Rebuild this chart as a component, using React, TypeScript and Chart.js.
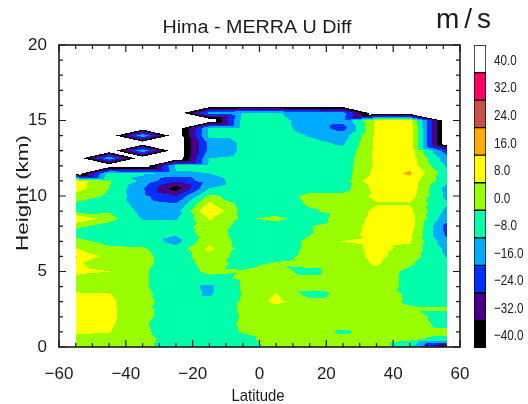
import { useEffect, useRef } from 'react';
import { Chart, registerables } from 'chart.js';

Chart.register(...registerables);

// Grid of the U-wind difference field
const LATITUDES = [-55, -45, -35, -25, -15, -5, 5, 15, 25, 35, 45, 56];
const HEIGHTS_KM = [0, 0.5, 1, 1.5, 2, 2.5, 3, 3.5, 4, 4.5, 5, 5.5, 6, 6.5, 7, 7.5, 8, 8.5, 9, 9.5, 10, 10.5, 11, 11.5, 12, 12.5, 13, 13.5, 14, 14.5, 15, 15.5, 16];

// Hima - MERRA zonal wind difference (m/s), one column per latitude, listed from 0 km upward; null = no data
const U_LAT_M55 = [5, 6, 9, 11, 11, 11, 11, 9, 5, 6, 10, 9, 16.5, 8.5, 3, -3, 2, 16.5, -2, -1, 4, 12, 12, null, null, null, null, null, null, null, null, null, null];
const U_LAT_M45 = [4, 5, 8.5, 9.5, 10, 10, 9.5, 8.5, 4, 3, 8.1, 5, 5, 2, -3, -4, -3, 3, -1, -2, -1, 0, 1, -5, null, -9, null, null, null, null, null, null, null];
const U_LAT_M35 = [2, 3, 1.5, 1, 2, 2, 3, 2, 1, 1, 1, 2, 2, 1, -3, -3, -4, -8.5, -10, -12, -14, -15, -10, -7, null, null, -9, null, -9, null, null, null, null];
const U_LAT_M25 = [-4, -4, -4, -4, -4, -4, -5, -4, -4, -4, -4, -4, -4, -5, -11, -7, -5, -9, -12, -16, -24, -36, -23, -9, -6, null, null, null, null, null, null, null, null];
const U_LAT_M15 = [-4, -4, -4, -4, -4, -4, -5, -9, -9.5, -2, 1.5, 3, 5, 10, 6, 5, 5, 9, 16.5, 9.5, 2, -8, -11, -8, -6, -8, -13, -13, -6, -7, null, -12, null];
const U_LAT_M5 = [-3, -2, 0.5, 1, 0.5, 1, 1, 0.5, 1, 1, 0.5, -2, -3, -3, -3, -4, -3, -1.5, -2, -3, -4, -5, -5, -4, -5, -6, -7, -7, -5, -5, -5, -7, null];
const U_LAT_P5 = [2, 3, 3, 3, 3, 4, 10.5, 8.5, 4, 4, 3, 1, -3, -4, -4, -4, -4, 2.5, -4, -4, -4, -4, -4, -4, -4, -4, -5, -4, -4, -5, -5, -7, null];
const U_LAT_P15 = [4, 4, 3, 4, 4, 4, 3, -2.5, 3, 3, -2.5, 3, 2, 1.5, 1.5, -0.5, -0.5, -5, -1, 1, 2, -3, -3, -3, -3, -4, -5, -6, -8.5, -11, -12, -12, null];
const U_LAT_P25 = [3, 3, -1, 3, 3, 4, 3, 1.5, 3, 4, 4, 4, 4, 5, 8.2, 5, 4, 4, 3, 3, 2, -3, -4, -4, -4, -5, -6, -9, -12, -19, -14, -13, null];
const U_LAT_P35 = [4, 3, 3, 4, 4, 4, 3, 3, 4, 4, 5, 9, 10, 10, 10, 11, 11, 10, 9.5, 7.5, 10, 11, 16.3, 11, 9.5, 10, 10, 10, 10, 10, 9.5, null, null];
const U_LAT_P45 = [-5, 1, 3, 3, 3, 1, -1, -1, -2, -2, -2, 1, 4, 6, 9, 10, 12, 12, 10, 7.5, 12, 13, 13, 17.5, 13, 13, 13, 13, 13, 13, 12, null, null];
const U_LAT_P56 = [-36, -2, 2, -2, -3, 1, -3, -3, -4, -4, -4, -5, -8.5, -10, -13, -18, -19, -13, -10, -7, -10, -11, -5, -5, -9, -13, -20, null, null, null, null, null, null];

const U_COLUMNS = [U_LAT_M55, U_LAT_M45, U_LAT_M35, U_LAT_M25, U_LAT_M15, U_LAT_M5, U_LAT_P5, U_LAT_P15, U_LAT_P25, U_LAT_P35, U_LAT_P45, U_LAT_P56];

// Contour levels (m/s), their colours and colour-bar labels
const LEVELS = [-40, -32, -24, -16, -8, 0, 8, 16, 24, 32, 40];
const LEVEL_COLORS = ['#000000', '#48008c', '#0030ff', '#00aaff', '#00ffaa', '#99ff00', '#ffff00', '#ffaa00', '#c85048', '#ff0066', '#ffffff'];
const LEVEL_LABELS = ['\u221240.0', '\u221232.0', '\u221224.0', '\u221216.0', '\u22128.0', '0.0', '8.0', '16.0', '24.0', '32.0', '40.0'];

const X_TICKS = [-60, -40, -20, 0, 20, 40, 60];
const Y_TICKS = [0, 5, 10, 15, 20];

const NO_DATA_FILL = -48;
const FONT = "'Liberation Sans', Arial, sans-serif";
const INK = '#1c1c1c';

const fmt = (v: number) => (v < 0 ? '\u2212' + Math.abs(v) : String(v));
const hexRgb = (hex: string) => [parseInt(hex.slice(1, 3), 16), parseInt(hex.slice(3, 5), 16), parseInt(hex.slice(5, 7), 16)];

function fitText(ctx: CanvasRenderingContext2D, text: string, cx: number, cy: number, width: number, font: string, rotate = false) {
  ctx.save();
  ctx.font = font;
  ctx.fillStyle = INK;
  const m = ctx.measureText(text).width;
  ctx.translate(cx, cy);
  if (rotate) ctx.rotate(-Math.PI / 2);
  ctx.scale(width / m, 1);
  ctx.textAlign = 'center';
  ctx.textBaseline = 'alphabetic';
  ctx.fillText(text, 0, 0);
  ctx.restore();
}

// Linear interpolation on triangles; each grid cell is split along the diagonal with the lower end values
function cellValue(v00: number, v10: number, v01: number, v11: number, tx: number, ty: number) {
  if (v00 + v11 <= v10 + v01) {
    if (tx >= ty) return v00 + tx * (v10 - v00) + ty * (v11 - v10);
    return v00 + ty * (v01 - v00) + tx * (v11 - v01);
  }
  if (tx + ty <= 1) return v00 + tx * (v10 - v00) + ty * (v01 - v00);
  return v11 + (1 - tx) * (v01 - v11) + (1 - ty) * (v10 - v11);
}

// Filled contours of the grid, sampled pixel by pixel through the chart scales
const contourFill = {
  id: 'contourFill',
  beforeDatasetsDraw(chart: any) {
    const { ctx, chartArea: area, scales } = chart;
    const xs = scales.x;
    const ys = scales.y;
    const pts = chart.data.datasets[0].data as { x: number; y: number; v: number | null }[];
    const nL = LATITUDES.length;
    const nH = HEIGHTS_KM.length;
    const val = (i: number, j: number) => {
      const v = pts[i * nH + j].v;
      return v === null ? NO_DATA_FILL : v;
    };
    const w = Math.round(area.right - area.left);
    const h = Math.round(area.bottom - area.top);
    const off = document.createElement('canvas');
    off.width = w;
    off.height = h;
    const octx = off.getContext('2d')!;
    const img = octx.createImageData(w, h);
    const rgb = LEVEL_COLORS.map(hexRgb);
    for (let py = 0; py < h; py++) {
      const hv = ys.getValueForPixel(area.top + py + 0.5);
      if (hv < HEIGHTS_KM[0] || hv > HEIGHTS_KM[nH - 1]) continue;
      let j = 0;
      while (j < nH - 2 && hv > HEIGHTS_KM[j + 1]) j++;
      const ty = (hv - HEIGHTS_KM[j]) / (HEIGHTS_KM[j + 1] - HEIGHTS_KM[j]);
      for (let px = 0; px < w; px++) {
        const lat = xs.getValueForPixel(area.left + px + 0.5);
        if (lat < LATITUDES[0] || lat > LATITUDES[nL - 1]) continue;
        let i = 0;
        while (i < nL - 2 && lat > LATITUDES[i + 1]) i++;
        const tx = (lat - LATITUDES[i]) / (LATITUDES[i + 1] - LATITUDES[i]);
        const v = cellValue(val(i, j), val(i + 1, j), val(i, j + 1), val(i + 1, j + 1), tx, ty);
        if (v < LEVELS[0] || v >= LEVELS[LEVELS.length - 1]) continue;
        let k = 0;
        while (k < LEVELS.length - 2 && v >= LEVELS[k + 1]) k++;
        const c = rgb[k];
        const o = (py * w + px) * 4;
        img.data[o] = c[0];
        img.data[o + 1] = c[1];
        img.data[o + 2] = c[2];
        img.data[o + 3] = 255;
      }
    }
    octx.putImageData(img, 0, 0);
    ctx.drawImage(off, area.left, area.top);
  },
  afterDatasetsDraw(chart: any) {
    const { ctx, chartArea: a, scales } = chart;
    ctx.save();
    ctx.strokeStyle = INK;
    ctx.lineWidth = 1.2;
    ctx.beginPath();
    for (let lat = -60; lat <= 60; lat += 5) {
      const x = scales.x.getPixelForValue(lat);
      const len = lat % 20 === 0 ? 7 : 4;
      ctx.moveTo(x, a.bottom);
      ctx.lineTo(x, a.bottom - len);
      ctx.moveTo(x, a.top);
      ctx.lineTo(x, a.top + len);
    }
    for (let hk = 0; hk <= 20; hk += 1) {
      const y = scales.y.getPixelForValue(hk);
      const len = hk % 5 === 0 ? 7 : 4;
      ctx.moveTo(a.left, y);
      ctx.lineTo(a.left + len, y);
      ctx.moveTo(a.right, y);
      ctx.lineTo(a.right - len, y);
    }
    ctx.stroke();
    ctx.lineWidth = 1.6;
    ctx.strokeRect(a.left, a.top, a.right - a.left, a.bottom - a.top);
    ctx.restore();
  },
  afterDraw(chart: any) {
    const { ctx } = chart;
    fitText(ctx, 'Hima - MERRA U Diff', 257, 33, 189, `18px ${FONT}`);
    fitText(ctx, 'Latitude', 258, 401, 53, `17px ${FONT}`);
    fitText(ctx, 'Height (km)', 28, 193, 116, `17px ${FONT}`, true);
    ctx.save();
    ctx.font = `28px ${FONT}`;
    ctx.fillStyle = INK;
    (ctx as any).letterSpacing = '5px';
    ctx.textAlign = 'left';
    ctx.fillText('m/s', 436, 28);
    ctx.restore();
  },
};

// Colour-bar labels, drawn narrow next to each box at the level's scale position
const barLabels = {
  id: 'barLabels',
  afterDraw(chart: any) {
    const { ctx, chartArea: a, scales } = chart;
    ctx.save();
    ctx.font = `15px ${FONT}`;
    ctx.fillStyle = INK;
    ctx.textBaseline = 'middle';
    ctx.textAlign = 'left';
    LEVELS.forEach((lv, k) => {
      const y = scales.y.getPixelForValue(lv);
      ctx.save();
      ctx.translate(a.right + 8, y + 2);
      ctx.scale(0.78, 1);
      ctx.fillText(LEVEL_LABELS[k], 0, 0);
      ctx.restore();
    });
    ctx.restore();
  },
};

export default function App() {
  const mainRef = useRef<HTMLCanvasElement>(null);
  const barRef = useRef<HTMLCanvasElement>(null);

  useEffect(() => {
    const points: { x: number; y: number; v: number | null }[] = [];
    U_COLUMNS.forEach((col, i) => {
      col.forEach((v, j) => points.push({ x: LATITUDES[i], y: HEIGHTS_KM[j], v }));
    });

    const tickFont = { family: FONT, size: 17 };

    const main = new Chart(mainRef.current!, {
      type: 'scatter',
      data: { datasets: [{ data: points as any, pointRadius: 0, pointHoverRadius: 0 }] },
      options: {
        responsive: false,
        animation: false,
        events: [],
        layout: { padding: { left: 0, top: 45, right: 68, bottom: 0 } },
        plugins: { legend: { display: false }, title: { display: false }, tooltip: { enabled: false } },
        scales: {
          x: {
            type: 'linear',
            min: -60,
            max: 60,
            afterBuildTicks: (s: any) => { s.ticks = X_TICKS.map((value) => ({ value })); },
            afterFit: (s: any) => { s.height = 57; },
            grid: { display: false },
            border: { display: false },
            ticks: { font: tickFont, color: INK, padding: 9, maxRotation: 0, autoSkip: false, callback: (v: any) => fmt(Number(v)) },
          },
          y: {
            type: 'linear',
            min: 0,
            max: 20,
            afterBuildTicks: (s: any) => { s.ticks = Y_TICKS.map((value) => ({ value })); },
            afterFit: (s: any) => { s.width = 59; },
            grid: { display: false },
            border: { display: false },
            ticks: { font: tickFont, color: INK, padding: 4, autoSkip: false, callback: (v: any) => fmt(Number(v)) },
          },
        },
      },
      plugins: [contourFill],
    });

    const bar = new Chart(barRef.current!, {
      type: 'bar',
      data: {
        labels: [''],
        datasets: LEVELS.map((lv, k) => ({
          data: [[lv - 4, lv + 4]] as any,
          backgroundColor: LEVEL_COLORS[k],
          borderColor: '#000',
          borderWidth: 1,
          borderSkipped: false,
          barPercentage: 1,
          categoryPercentage: 1,
          grouped: false,
        })),
      },
      options: {
        responsive: false,
        animation: false,
        events: [],
        layout: { padding: { left: 4, top: 45, right: 0, bottom: 56 } },
        plugins: { legend: { display: false }, title: { display: false }, tooltip: { enabled: false } },
        scales: {
          x: { display: false },
          y: {
            position: 'right',
            min: -44,
            max: 44,
            afterBuildTicks: (s: any) => { s.ticks = LEVELS.map((value) => ({ value })); },
            afterFit: (s: any) => { s.width = 42; },
            grid: { display: false },
            border: { display: false },
            ticks: { display: false },
          },
        },
      },
      plugins: [barLabels],
    });

    return () => {
      main.destroy();
      bar.destroy();
    };
  }, []);

  return (
    <div style={{ position: 'fixed', left: 0, top: 0, width: 528, height: 404, background: '#fff', overflow: 'hidden' }}>
      <canvas ref={mainRef} width={528} height={404} style={{ position: 'absolute', left: 0, top: 0 }} />
      <canvas ref={barRef} width={58} height={404} style={{ position: 'absolute', left: 470, top: 0 }} />
    </div>
  );
}
